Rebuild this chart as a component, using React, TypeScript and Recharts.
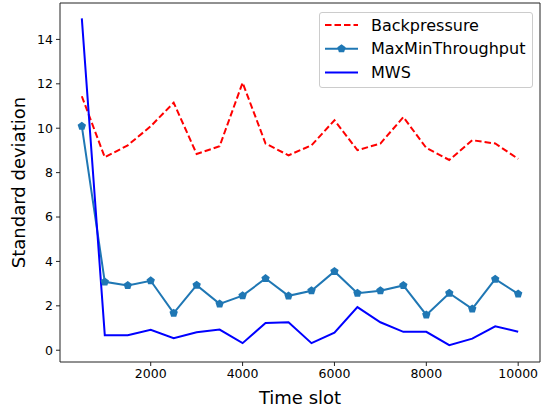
import React from 'react';
import { LineChart, Line, XAxis, YAxis, Legend, ReferenceArea } from 'recharts';

const timeSlots = [500, 1000, 1500, 2000, 2500, 3000, 3500, 4000, 4500, 5000, 5500, 6000, 6500, 7000, 7500, 8000, 8500, 9000, 9500, 10000];
const backpressure = [11.44, 8.69, 9.23, 10.09, 11.15, 8.84, 9.19, 12.05, 9.31, 8.78, 9.23, 10.36, 9.01, 9.31, 10.5, 9.11, 8.57, 9.46, 9.31, 8.62];
const maxMinThroughput = [10.09, 3.08, 2.92, 3.13, 1.67, 2.93, 2.09, 2.46, 3.23, 2.45, 2.68, 3.55, 2.57, 2.68, 2.92, 1.59, 2.57, 1.86, 3.2, 2.54];
const mws = [14.95, 0.68, 0.68, 0.92, 0.54, 0.81, 0.93, 0.32, 1.23, 1.26, 0.32, 0.79, 1.94, 1.26, 0.83, 0.83, 0.23, 0.52, 1.08, 0.83];

const xTicks = [2000, 4000, 6000, 8000, 10000];
const yTicks = [0, 2, 4, 6, 8, 10, 12, 14];
const xDomain = [25, 10475];
const yDomain = [-0.53, 15.64];

const data = timeSlots.map((t, i) => ({
  t,
  backpressure: backpressure[i],
  maxmin: maxMinThroughput[i],
  mws: mws[i],
}));

const FONT = '"DejaVu Sans", sans-serif';
const AXIS_COLOR = '#222';
const DASH = '6.5 3';

const pentagonPoints = (cx: number, cy: number, r: number) =>
  Array.from({ length: 5 }, (_, k) => {
    const a = ((-90 + k * 72) * Math.PI) / 180;
    return `${cx + r * Math.cos(a)},${cy + r * Math.sin(a)}`;
  }).join(' ');

const PentagonDot = (props: any) => {
  const { cx, cy, index } = props;
  if (cx == null || cy == null) return <g key={index} />;
  return <polygon key={index} points={pentagonPoints(cx, cy, 4.4)} fill="#1f77b4" />;
};

// legend order as in the original plot
const legendOrder = ['backpressure', 'maxmin', 'mws'];
const legendStyles: Record<string, { color: string; dash?: string; marker?: boolean }> = {
  backpressure: { color: '#ff0000', dash: DASH },
  maxmin: { color: '#1f77b4', marker: true },
  mws: { color: '#0000ff' },
};

const renderLegend = (props: any) => {
  const payload = [...(props.payload || [])].sort(
    (a: any, b: any) => legendOrder.indexOf(a.dataKey) - legendOrder.indexOf(b.dataKey)
  );
  return (
    <div
      style={{
        width: 212,
        height: 74,
        border: '1px solid #cccccc',
        borderRadius: 3,
        background: 'rgba(255,255,255,0.8)',
      }}
    >
      <svg width={212} height={74}>
        {payload.map((entry: any, i: number) => {
          const s = legendStyles[entry.dataKey] || { color: entry.color };
          const y = 12 + i * 23.7;
          return (
            <g key={entry.dataKey}>
              <line x1={5} x2={38} y1={y} y2={y} stroke={s.color} strokeWidth={2} strokeDasharray={s.dash} />
              {s.marker && <polygon points={pentagonPoints(21.5, y, 4.4)} fill={s.color} />}
              <text x={51} y={y} dominantBaseline="central" fontFamily={FONT} fontSize={16} fill="#000">
                {entry.value}
              </text>
            </g>
          );
        })}
      </svg>
    </div>
  );
};

const YLabel = (props: any) => {
  const vb = props.viewBox || { x: 0, y: 3, width: 60, height: 359 };
  const cx = vb.x + 18;
  const cy = vb.y + vb.height / 2;
  return (
    <text
      x={cx}
      y={cy}
      transform={`rotate(-90 ${cx} ${cy})`}
      textAnchor="middle"
      dominantBaseline="central"
      fontFamily={FONT}
      fontSize={18}
      fill="#000"
    >
      Standard deviation
    </text>
  );
};

const XLabel = (props: any) => {
  const vb = props.viewBox || { x: 60, y: 362, width: 480, height: 52 };
  return (
    <text
      x={vb.x + vb.width / 2}
      y={vb.y + 35}
      textAnchor="middle"
      dominantBaseline="central"
      fontFamily={FONT}
      fontSize={18}
      fill="#000"
    >
      Time slot
    </text>
  );
};

const tickStyle = { fontFamily: FONT, fontSize: 12.5, fill: '#000' };

export default function App() {
  return (
    <div style={{ position: 'absolute', left: 0, top: 0, width: 542, height: 414, background: '#fff' }}>
      <LineChart width={542} height={414} data={data} margin={{ top: 3, right: 2, left: 0, bottom: 0 }}>
        <XAxis
          dataKey="t"
          type="number"
          domain={xDomain}
          ticks={xTicks}
          allowDataOverflow
          height={52}
          tickSize={4}
          tickMargin={3}
          tick={tickStyle}
          axisLine={false}
          tickLine={{ stroke: AXIS_COLOR }}
          label={<XLabel />}
        />
        <YAxis
          type="number"
          domain={yDomain}
          ticks={yTicks}
          allowDataOverflow
          width={60}
          tickSize={4}
          tickMargin={3}
          tick={tickStyle}
          axisLine={false}
          tickLine={{ stroke: AXIS_COLOR }}
          label={<YLabel />}
        />
        {/* axes frame (all four spines) */}
        <ReferenceArea
          x1={xDomain[0]}
          x2={xDomain[1]}
          y1={yDomain[0]}
          y2={yDomain[1]}
          fill="none"
          fillOpacity={0}
          stroke={AXIS_COLOR}
          strokeWidth={1}
          ifOverflow="visible"
        />
        <Legend
          layout="vertical"
          align="center"
          verticalAlign="middle"
          content={renderLegend}
          wrapperStyle={{ left: 319, top: 12, width: 214, height: 76 }}
        />
        <Line
          dataKey="backpressure"
          name="Backpressure"
          type="linear"
          stroke="#ff0000"
          strokeWidth={2}
          strokeDasharray={DASH}
          dot={false}
          activeDot={false}
          isAnimationActive={false}
        />
        <Line
          dataKey="maxmin"
          name="MaxMinThroughput"
          type="linear"
          stroke="#1f77b4"
          strokeWidth={2}
          dot={PentagonDot}
          activeDot={false}
          isAnimationActive={false}
        />
        <Line
          dataKey="mws"
          name="MWS"
          type="linear"
          stroke="#0000ff"
          strokeWidth={2}
          dot={false}
          activeDot={false}
          isAnimationActive={false}
        />
      </LineChart>
    </div>
  );
}
